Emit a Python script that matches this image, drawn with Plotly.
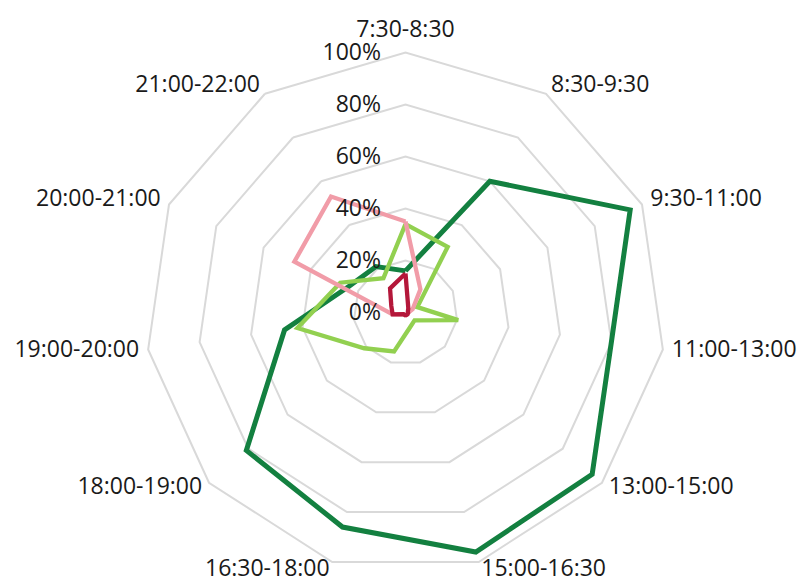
import plotly.graph_objects as go

categories = ["7:30-8:30", "8:30-9:30", "9:30-11:00", "11:00-13:00", "13:00-15:00",
              "15:00-16:30", "16:30-18:00", "18:00-19:00", "19:00-20:00",
              "20:00-21:00", "21:00-22:00"]
dark_green = [16, 60, 95, 80, 95, 96, 86, 81, 47, 24, 21]
light_green = [34, 30, 5, 20.5, 4.6, 6, 15.6, 21, 42, 27.6, 15.7]
pink = [35, 10.6, 3, 1, 1, 1, 1, 1, 5, 47, 53]
red = [15, 2, 1, 1, 1, 1, 1, 1, 5, 6, 11]
radial_ticks = [0, 20, 40, 60, 80, 100]
radial_labels = ["0%", "20%", "40%", "60%", "80%", "100%"]

series = [
    ("dark", dark_green, "#138040", 5),
    ("light", light_green, "#92D050", 4.3),
    ("pink", pink, "#F19CA8", 4.3),
    ("red", red, "#B4173A", 4.3),
]

fig = go.Figure()
for name, vals, color, w in series:
    fig.add_trace(go.Scatterpolar(
        r=vals + vals[:1], theta=categories + categories[:1],
        mode="lines", name=name,
        line=dict(color=color, width=w),
        hoverinfo="skip",
    ))

# category labels, placed just outside the 100% ring like Excel does
R_MAX = 104
n = len(categories)
label_r = [103.9] + [103.5] * (n - 1)
label_pos = ["top center"] + ["middle right"] * 5 + ["middle left"] * 5
fig.add_trace(go.Scatterpolar(
    r=label_r, theta=categories, mode="text", text=categories,
    textposition=label_pos, cliponaxis=False,
    textfont=dict(family="Open Sans", size=23, color="#1a1a1a"),
    hoverinfo="skip",
))

W, H = 797, 583
cx, cy, R100 = 405.5, 312.5, 260
R = R100 * R_MAX / 100
fig.update_layout(
    width=W, height=H,
    margin=dict(l=0, r=0, t=0, b=0),
    paper_bgcolor="white",
    showlegend=False,
    font=dict(family="Open Sans", size=23, color="#1a1a1a"),
    polar=dict(
        domain=dict(x=[(cx - R) / W, (cx + R) / W],
                    y=[max(0, (H - cy - R) / H), min(1, (H - cy + R) / H)]),
        bgcolor="white",
        gridshape="linear",
        angularaxis=dict(
            direction="clockwise", rotation=90,
            showgrid=False, showline=False,
            ticks="", showticklabels=False,
        ),
        radialaxis=dict(
            range=[0, R_MAX], angle=90,
            tickvals=radial_ticks, ticktext=radial_labels,
            showline=False, showgrid=True,
            gridcolor="#D9D9D9", gridwidth=1.6,
            side="counterclockwise",
            ticks="outside", ticklen=16, tickcolor="rgba(0,0,0,0)",
            tickangle=90,
            tickfont=dict(size=23),
        ),
    ),
)
fig.write_html("out.html", config={"displayModeBar": False},
               post_script="document.body.style.margin='0';")
